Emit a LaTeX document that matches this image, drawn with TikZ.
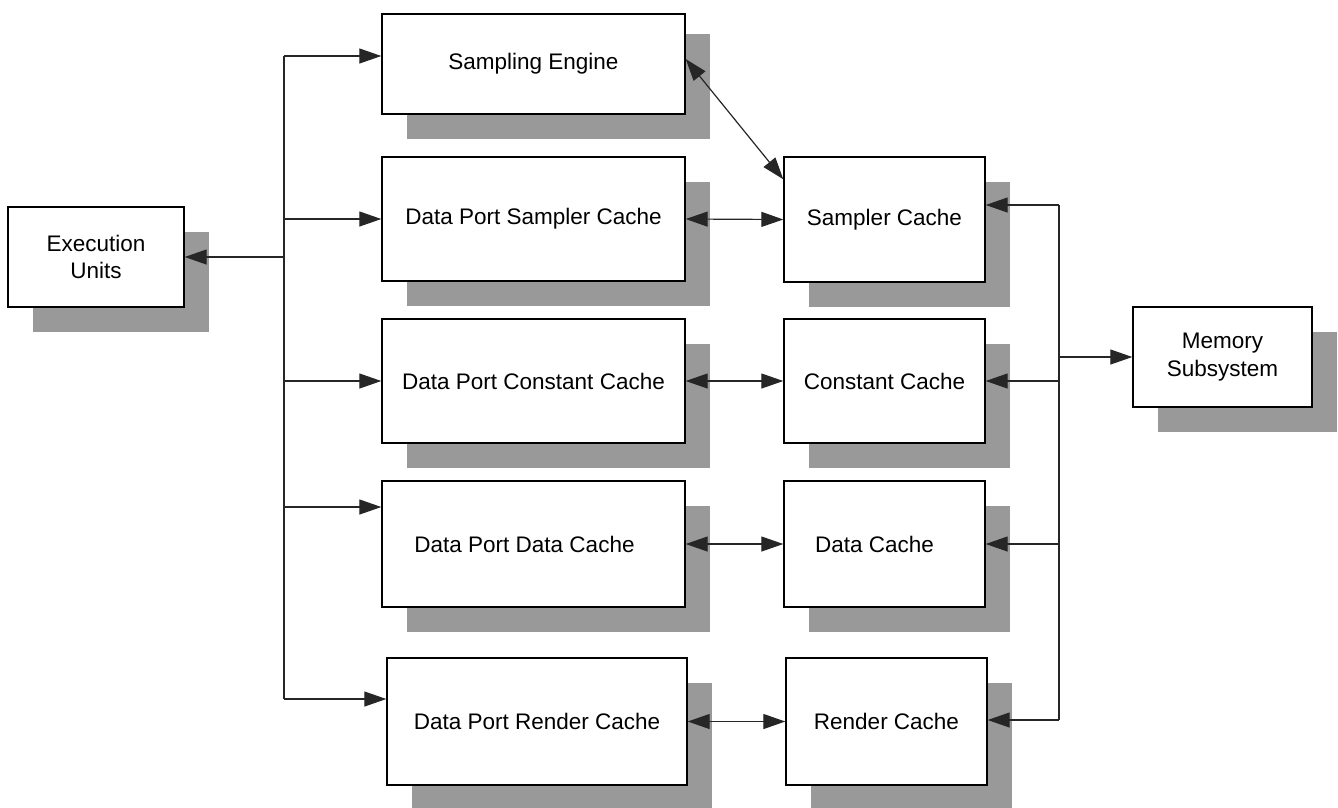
\documentclass[tikz,border=0pt]{standalone}
\usepackage{fontspec}
\setmainfont{Liberation Sans}
\usetikzlibrary{arrows.meta,shadows}
\definecolor{shadowc}{RGB}{153,153,153}
\tikzset{
  box/.style={draw=black, line width=1.4pt, fill=white, rectangle, inner sep=0pt,
    font=\fontsize{22.5}{27.5}\selectfont, align=center,
    drop shadow={shadow xshift=25pt, shadow yshift=-25pt, fill=shadowc, opacity=1}},
  wire/.style={line width=1.2pt, draw=black!85},
  tip/.style={},
  arr/.style={wire, -{Triangle[length=22pt,width=15pt]}},
  darr/.style={wire, {Triangle[length=22pt,width=15pt]}-{Triangle[length=22pt,width=15pt]}},
  inlbl/.style={font=\fontsize{22.5}{27.5}\selectfont}
}
\begin{document}
\begin{tikzpicture}[x=1pt,y=-1pt]
\useasboundingbox (0,0) rectangle (1338,807);

% left column: execution units
\node[box, minimum width=176pt, minimum height=100pt] (eu) at (96,257) {Execution\\Units};

% data port column
\node[box, minimum width=303pt, minimum height=100pt,
      drop shadow={shadow xshift=25pt, shadow yshift=-20pt, fill=shadowc, opacity=1}]
      (se) at (533.5,64) {Sampling Engine};
\node[box, minimum width=303pt, minimum height=124pt] (dps) at (533.5,219) {Data Port Sampler Cache};
\node[box, minimum width=303pt, minimum height=124pt] (dpc) at (533.5,381) {Data Port Constant Cache};
\node[box, minimum width=303pt, minimum height=126pt,
      label={[inlbl,xshift=-9pt]center:Data Port Data Cache}] (dpd) at (533.5,544) {};
\node[box, minimum width=300pt, minimum height=127pt] (dpr) at (537,721.5) {Data Port Render Cache};

% cache column
\node[box, minimum width=201pt, minimum height=125pt] (sc) at (884.5,219.5) {Sampler Cache};
\node[box, minimum width=201pt, minimum height=124pt] (cc) at (884.5,381) {Constant Cache};
\node[box, minimum width=201pt, minimum height=126pt,
      label={[inlbl,xshift=-10pt]center:Data Cache}] (dc) at (884.5,544) {};
\node[box, minimum width=201pt, minimum height=127pt] (rc) at (886.5,721.5) {Render Cache};

% memory
\node[box, minimum width=179pt, minimum height=100pt] (ms) at (1222.5,357) {Memory\\Subsystem};

% left distribution bus
\coordinate (lt) at (284,56);
\coordinate (ld) at (284,507);
\coordinate (lb) at (284,699);
\draw[wire] (lt) -- (lb);
\draw[arr] (lt) -- (lt -| se.west);
\draw[arr] (dps.west -| lt) -- (dps.west);
\draw[arr] (dpc.west -| lt) -- (dpc.west);
\draw[arr] (ld) -- (ld -| dpd.west);
\draw[arr] (lb) -- (lb -| dpr.west);
\draw[arr] (eu.east -| lt) -- (eu.east);

% data port to cache links
\draw[darr] ([yshift=5pt]se.east) -- ([yshift=-23pt]sc.north west);
\draw[darr] (dps.east) -- (sc.west);
\draw[darr] (dpc.east) -- (cc.west);
\draw[darr] (dpd.east) -- (dc.west);
\draw[darr] (dpr.east) -- (rc.west);

% right memory bus
\coordinate (rt) at (1059,205);
\coordinate (rb) at (1059,720);
\draw[wire] (rt) -- (rb);
\draw[arr] (rt) -- (rt -| sc.east);
\draw[arr] (cc.east -| rt) -- (cc.east);
\draw[arr] (dc.east -| rt) -- (dc.east);
\draw[arr] (rb) -- (rb -| rc.east);
\draw[arr] (ms.west -| rt) -- (ms.west);
\end{tikzpicture}
\end{document}
